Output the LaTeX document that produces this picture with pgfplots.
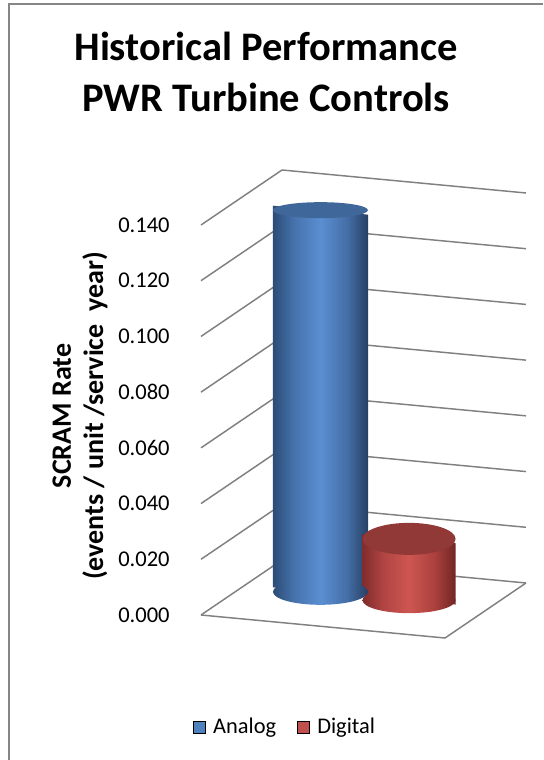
\documentclass[border=0pt]{standalone}
\usepackage{pgfplots}
\pgfplotsset{compat=1.18}
\usepackage{fontspec}
\setmainfont{Carlito}
\definecolor{gridgray}{RGB}{128,128,128}
\definecolor{framegray}{RGB}{134,134,134}
\definecolor{legblue}{RGB}{79,129,189}
\definecolor{legred}{RGB}{192,80,77}
\definecolor{bluetop}{RGB}{64,103,154}
\definecolor{redtop}{RGB}{144,57,55}
\definecolor{bA}{RGB}{44,76,118}
\definecolor{bB}{RGB}{70,114,172}
\definecolor{bC}{RGB}{90,143,210}
\definecolor{bD}{RGB}{68,110,166}
\definecolor{bE}{RGB}{38,64,100}
\definecolor{rA}{RGB}{128,44,43}
\definecolor{rB}{RGB}{176,68,66}
\definecolor{rC}{RGB}{206,86,81}
\definecolor{rD}{RGB}{170,64,61}
\definecolor{rE}{RGB}{112,38,37}
\pgfdeclarehorizontalshading{blueside}{100bp}{color(0bp)=(bA); color(25bp)=(bA); color(36bp)=(bB); color(50bp)=(bC); color(64bp)=(bD); color(75bp)=(bE); color(100bp)=(bE)}
\pgfdeclarehorizontalshading{redside}{100bp}{color(0bp)=(rA); color(25bp)=(rA); color(36bp)=(rB); color(50bp)=(rC); color(64bp)=(rD); color(75bp)=(rE); color(100bp)=(rE)}
\pgfdeclareplotmark{bluebot}{%
  \pgfpathellipse{\pgfpointorigin}{\pgfqpoint{35.6pt}{0pt}}{\pgfqpoint{0pt}{9.75pt}}%
  \pgfshadepath{blueside}{0}%
  \pgfusepath{}}
\pgfdeclareplotmark{bluetopm}{%
  \pgfsetfillcolor{bluetop}%
  \pgfpathellipse{\pgfpointorigin}{\pgfqpoint{35.6pt}{0pt}}{\pgfqpoint{0pt}{6pt}}%
  \pgfusepath{fill}}
\pgfdeclareplotmark{redbot}{%
  \pgfpathellipse{\pgfpointorigin}{\pgfqpoint{34.9pt}{0pt}}{\pgfqpoint{0pt}{9.75pt}}%
  \pgfshadepath{redside}{0}%
  \pgfusepath{}}
\pgfdeclareplotmark{redtopm}{%
  \pgfsetfillcolor{redtop}%
  \pgfpathellipse{\pgfpointorigin}{\pgfqpoint{34.9pt}{0pt}}{\pgfqpoint{0pt}{12pt}}%
  \pgfusepath{fill}}
\begin{document}
\begin{tikzpicture}
\useasboundingbox (0,0) rectangle (407.25pt,570pt);
\begin{scope}[x=0.75pt, y=-0.75pt, yshift=570pt]
  \draw[framegray, line width=1.5pt] (9,760) -- (9,4) -- (543,4);
  \node[anchor=base, inner sep=0pt, font=\bfseries\fontsize{30.4}{36}\selectfont] at (266,61) {Historical Performance};
  \node[anchor=base, inner sep=0pt, font=\bfseries\fontsize{30.4}{36}\selectfont] at (266,112) {PWR Turbine Controls};
  \node[anchor=base, rotate=90, inner sep=0pt, font=\bfseries\fontsize{21}{25}\selectfont] at (71,416) {SCRAM Rate};
  \node[anchor=base, rotate=90, inner sep=0pt, font=\bfseries\fontsize{21}{25}\selectfont] at (103,416) {(events / unit /service \ year)};
\end{scope}
\begin{axis}[
  at={(150.75pt,108.75pt)}, anchor=origin,
  x={(183pt,-17.25pt)}, y={(60.75pt,41.25pt)}, z={(0pt,2089.3pt)},
  xmin=0, xmax=1, ymin=0, ymax=1, zmin=0, zmax=0.14,
  xtick=\empty, ytick=\empty,
  ztick={0,0.02,0.04,0.06,0.08,0.1,0.12,0.14},
  zmajorgrids=true, xmajorgrids=false, ymajorgrids=false,
  grid style={gridgray, line width=1.1pt},
  axis line style={draw=none},
  tick style={draw=none},
  clip=false,
  zticklabel style={anchor=east, xshift=-20pt, font=\fontsize{16.9}{20}\selectfont, /pgf/number format/.cd, fixed, fixed zerofill, precision=3, assume math mode=true},
  legend style={draw=none, fill=none, legend columns=2, font=\fontsize{16.8}{20}\selectfont,
    at={(0.26,-0.19)}, anchor=center,
    /tikz/every even column/.append style={column sep=14pt}},
  legend image code/.code={\fill[#1] (0pt,-4.5pt) rectangle (9pt,4.5pt); \path (12.5pt,0pt);},
]
\draw[gridgray, line width=1.1pt] (axis cs:0,0,0) -- (axis cs:1,0,0) -- (axis cs:1,1,0);
% Analog cylinder (value 0.137)
\addplot3[forget plot, only marks, mark=bluebot] coordinates {(0.307,0.55,0)};
\addplot3[forget plot, draw=none, shade, shading=blueside] coordinates {(0.112,0.55,0) (0.502,0.55,0) (0.502,0.55,0.137) (0.112,0.55,0.137)};
\addplot3[forget plot, only marks, mark=bluetopm] coordinates {(0.307,0.55,0.137)};
% Digital cylinder (value 0.022)
\addplot3[forget plot, only marks, mark=redbot] coordinates {(0.670,0.55,0)};
\addplot3[forget plot, draw=none, shade, shading=redside] coordinates {(0.479,0.55,0) (0.861,0.55,0) (0.861,0.55,0.022) (0.479,0.55,0.022)};
\addplot3[forget plot, only marks, mark=redtopm] coordinates {(0.670,0.55,0.022)};
\addlegendimage{fill=legblue}
\addlegendentry{Analog}
\addlegendimage{fill=legred}
\addlegendentry{Digital}
\end{axis}
\end{tikzpicture}
\end{document}
